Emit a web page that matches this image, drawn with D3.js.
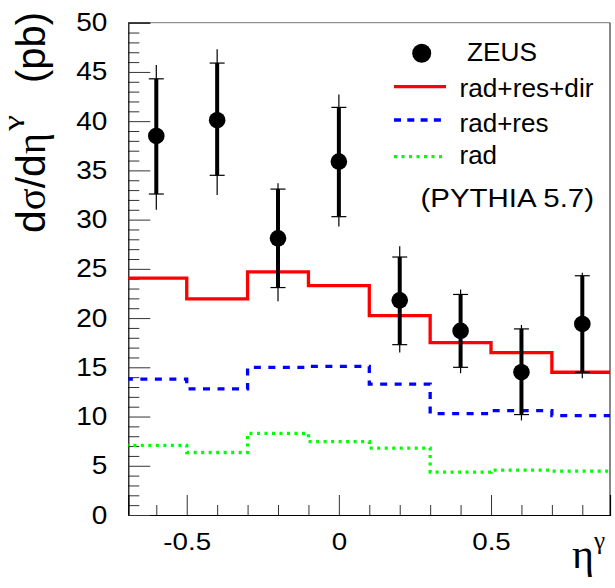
<!DOCTYPE html>
<html>
<head>
<meta charset="utf-8">
<script src="https://cdn.jsdelivr.net/npm/d3@7"></script>
<style>
  html, body { margin: 0; padding: 0; background: #fff; }
  svg { display: block; font-family: "Liberation Sans", Arial, Helvetica, sans-serif; }
</style>
</head>
<body>
<svg id="chart" width="615" height="588"></svg>
<script>
// Photon pseudorapidity distribution: ZEUS data vs PYTHIA 5.7 components

// ZEUS measurement, bin centres in eta^gamma
const etaPoints = [-0.6, -0.4, -0.2, 0.0, 0.2, 0.4, 0.6, 0.8];
const zeusValues = [38.5, 40.1, 28.1, 35.9, 21.8, 18.7, 14.5, 19.4];
// statistical errors (thick bars, capped)
const statErrUp = [5.8, 5.8, 5.0, 5.5, 4.4, 3.7, 4.4, 4.9];
const statErrDown = [5.9, 5.6, 5.0, 5.6, 4.5, 3.7, 4.3, 4.9];
// total errors (thin bars)
const totErrUp = [7.2, 7.2, 5.6, 6.8, 5.5, 4.2, 4.8, 5.2];
const totErrDown = [7.5, 7.6, 6.4, 6.6, 5.3, 4.3, 4.9, 5.5];

// PYTHIA histograms, bin edges and contents
const binEdges = [-0.7, -0.5, -0.3, -0.1, 0.1, 0.3, 0.5, 0.7, 0.9];
const radResDir = [24.05, 21.95, 24.7, 23.3, 20.25, 17.5, 16.5, 14.5];
const radRes = [13.8, 12.8, 15.0, 15.1, 13.3, 10.3, 10.6, 10.1];
const radOnly = [7.08, 6.35, 8.3, 7.45, 6.8, 4.35, 4.55, 4.45];

// axis ticks
const xMajorTicks = [-0.5, 0, 0.5];
const xMinorTicks = [-0.6, -0.4, -0.3, -0.2, -0.1, 0.1, 0.2, 0.3, 0.4, 0.6, 0.7, 0.8];
const yMajorTicks = [0, 5, 10, 15, 20, 25, 30, 35, 40, 45, 50];
const yMinorTicks = d3.range(0, 51).filter(v => v % 5 !== 0);

const frame = { left: 128.3, right: 610, top: 22.7, bottom: 515 };
const xLimits = [-0.692, 0.891];
const yLimits = [0, 50];

const svg = d3.select("#chart");
const x = d3.scaleLinear().domain(xLimits).range([frame.left, frame.right]);
const y = d3.scaleLinear().domain(yLimits).range([frame.bottom, frame.top]);

svg.append("defs").append("clipPath").attr("id", "plotClip")
  .append("rect")
  .attr("x", frame.left).attr("y", frame.top)
  .attr("width", frame.right - frame.left).attr("height", frame.bottom - frame.top);

// frame top/right
svg.append("line").attr("x1", frame.left).attr("x2", frame.right)
  .attr("y1", frame.top).attr("y2", frame.top)
  .attr("stroke", "#777").attr("stroke-width", 1);
svg.append("line").attr("x1", frame.right).attr("x2", frame.right)
  .attr("y1", frame.top).attr("y2", frame.bottom)
  .attr("stroke", "#111").attr("stroke-width", 1);

// axes
const xAxisMajor = d3.axisBottom(x).tickValues(xMajorTicks)
  .tickFormat(d => d === 0 ? "0" : String(d))
  .tickSize(-20).tickPadding(18);
const xAxisMinor = d3.axisBottom(x).tickValues(xMinorTicks).tickFormat("").tickSize(-10);
const yAxisMajor = d3.axisLeft(y).tickValues(yMajorTicks).tickFormat(d3.format("d"))
  .tickSize(-22).tickPadding(21);
const yAxisMinor = d3.axisLeft(y).tickValues(yMinorTicks).tickFormat("").tickSize(-11);

function styleAxis(g, fontSize) {
  g.selectAll("path.domain").attr("stroke", "#000").attr("stroke-width", 1.2);
  g.selectAll(".tick line").attr("stroke", "#333").attr("stroke-width", 1);
  g.selectAll("text").attr("fill", "#000")
    .attr("font-family", "'Liberation Sans', Arial, sans-serif")
    .attr("font-size", fontSize);
}

svg.append("g").attr("transform", `translate(0,${frame.bottom})`).call(xAxisMinor)
  .call(g => g.select("path.domain").remove())
  .call(g => styleAxis(g, 0));
svg.append("g").attr("transform", `translate(0,${frame.bottom})`).call(xAxisMajor)
  .call(g => styleAxis(g, "23.5px"))
  .call(g => g.selectAll("text").attr("dy", "0.71em").attr("transform", "scale(1.18,1)"));
svg.append("g").attr("transform", `translate(${frame.left},0)`).call(yAxisMinor)
  .call(g => g.select("path.domain").remove())
  .call(g => styleAxis(g, 0));
svg.append("g").attr("transform", `translate(${frame.left},0)`).call(yAxisMajor)
  .call(g => styleAxis(g, "25px"))
  .call(g => g.selectAll("text").attr("transform", "translate(-21,0) scale(1.12,1) translate(21,0)"));

// PYTHIA step histograms
const plot = svg.append("g").attr("clip-path", "url(#plotClip)");
const stepLine = d3.line().x(d => x(d[0])).y(d => y(d[1])).curve(d3.curveStepAfter);
function histPoints(values) {
  const pts = values.map((v, i) => [binEdges[i], v]);
  pts.push([binEdges[binEdges.length - 1], values[values.length - 1]]);
  return pts;
}
const histograms = [
  { values: radOnly, color: "#00ff00", dash: "3,4.5" },
  { values: radRes, color: "#0000ff", dash: "7,7.5" },
  { values: radResDir, color: "#ff0000", dash: null }
];
histograms.forEach(h => {
  plot.append("path")
    .attr("d", stepLine(histPoints(h.values)))
    .attr("fill", "none")
    .attr("stroke", h.color)
    .attr("stroke-width", 3.3)
    .attr("stroke-dasharray", h.dash);
});

// ZEUS data with error bars
const points = etaPoints.map((e, i) => ({
  eta: e, v: zeusValues[i],
  sUp: zeusValues[i] + statErrUp[i], sDn: zeusValues[i] - statErrDown[i],
  tUp: zeusValues[i] + totErrUp[i], tDn: zeusValues[i] - totErrDown[i]
}));
const pg = svg.append("g").selectAll("g").data(points).join("g");
pg.append("line")
  .attr("x1", d => x(d.eta)).attr("x2", d => x(d.eta))
  .attr("y1", d => y(d.tUp)).attr("y2", d => y(d.tDn))
  .attr("stroke", "#000").attr("stroke-width", 1.2);
pg.append("line")
  .attr("x1", d => x(d.eta)).attr("x2", d => x(d.eta))
  .attr("y1", d => y(d.sUp)).attr("y2", d => y(d.sDn))
  .attr("stroke", "#000").attr("stroke-width", 4);
pg.selectAll("line.cap").data(d => [[d.eta, d.sUp], [d.eta, d.sDn]]).join("line")
  .attr("class", "cap")
  .attr("x1", d => x(d[0]) - 7.5).attr("x2", d => x(d[0]) + 7.5)
  .attr("y1", d => y(d[1])).attr("y2", d => y(d[1]))
  .attr("stroke", "#000").attr("stroke-width", 1.2);
pg.append("circle")
  .attr("cx", d => x(d.eta)).attr("cy", d => y(d.v)).attr("r", 8.3)
  .attr("fill", "#000");

// legend
const legend = svg.append("g").attr("font-size", "25px").attr("fill", "#000");
legend.append("circle").attr("cx", 421.7).attr("cy", 53.3).attr("r", 9.5).attr("fill", "#000");
legend.append("text").attr("x", 467).attr("y", 61)
  .attr("textLength", 70).attr("lengthAdjust", "spacingAndGlyphs").text("ZEUS");
const legendLines = [
  { color: "#ff0000", dash: null, y: 86.7, label: "rad+res+dir", ty: 97, w: 134 },
  { color: "#0000ff", dash: "7,6.3", y: 120, label: "rad+res", ty: 132, w: 89 },
  { color: "#00ff00", dash: "3,4.5", y: 156.7, label: "rad", ty: 164, w: 37.5 }
];
legendLines.forEach(l => {
  legend.append("line").attr("x1", 394).attr("x2", 446).attr("y1", l.y).attr("y2", l.y)
    .attr("stroke", l.color).attr("stroke-width", 3.3).attr("stroke-dasharray", l.dash);
  legend.append("text").attr("x", 459.5).attr("y", l.ty)
    .attr("textLength", l.w).attr("lengthAdjust", "spacingAndGlyphs").text(l.label);
});
legend.append("text").attr("x", 420.5).attr("y", 207)
  .attr("textLength", 173.5).attr("lengthAdjust", "spacingAndGlyphs").text("(PYTHIA 5.7)");

// axis titles
const greek = "'Liberation Serif', 'Times New Roman', serif";
const yTitle = svg.append("text")
  .attr("transform", "translate(45,233) rotate(-90)")
  .attr("font-size", "41px").attr("fill", "#000")
  .attr("textLength", 100).attr("lengthAdjust", "spacingAndGlyphs");
yTitle.append("tspan").text("d");
yTitle.append("tspan").attr("font-family", greek).text("σ");
yTitle.append("tspan").text("/d");
yTitle.append("tspan").attr("font-family", greek).text("η");
svg.append("text")
  .attr("transform", "translate(19,131) rotate(-90)")
  .attr("font-family", greek).attr("font-size", "20px").attr("fill", "#000")
  .attr("textLength", 16).attr("lengthAdjust", "spacingAndGlyphs")
  .text("γ");
svg.append("text")
  .attr("transform", "translate(45,83) rotate(-90)")
  .attr("font-size", "40px").attr("fill", "#000")
  .text("(pb)");

const xTitle = svg.append("text")
  .attr("x", 572).attr("y", 568)
  .attr("font-family", greek).attr("font-size", "42px").attr("fill", "#000");
xTitle.append("tspan").text("η");
xTitle.append("tspan").attr("font-size", "25px").attr("dy", -19).text("γ");
</script>
</body>
</html>
